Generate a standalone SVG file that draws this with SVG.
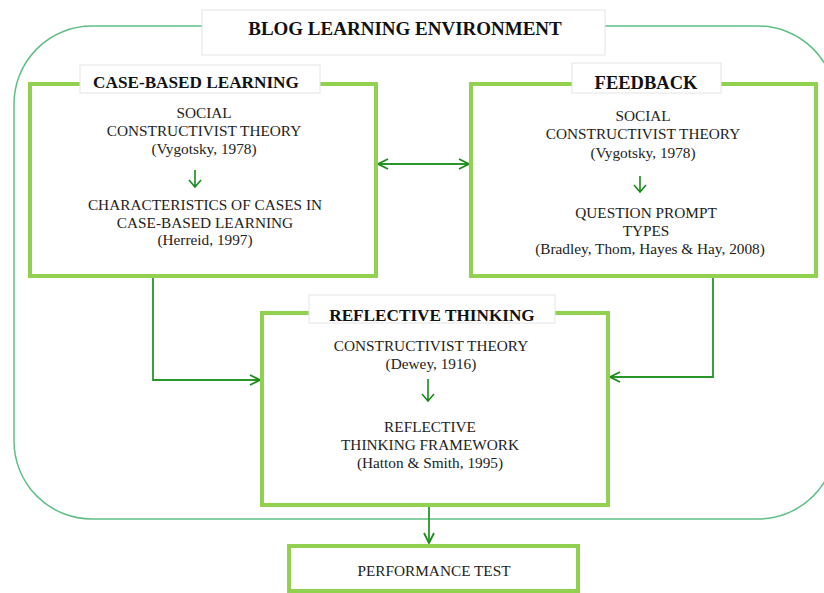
<svg xmlns="http://www.w3.org/2000/svg" width="824" height="593" viewBox="0 0 824 593">
<style>
.box{fill:#fff;stroke:#92d050;stroke-width:4}
.tab{fill:#fff;stroke:#e4e4e4;stroke-width:1}
.hd{font-family:"Liberation Serif","Times New Roman",serif;font-weight:bold;fill:#111;text-anchor:middle}
.tx{font-family:"Liberation Serif","Times New Roman",serif;font-size:15.3px;fill:#222;text-anchor:middle}
.con{fill:none;stroke:#2a962a;stroke-width:1.8}
.sm{fill:none;stroke:#1a8a1a;stroke-width:1.6}
</style>
<defs>
<marker id="ah" viewBox="0 0 12 12" refX="11" refY="6" markerWidth="12" markerHeight="12" markerUnits="userSpaceOnUse" orient="auto-start-reverse">
<path d="M1,1 L11,6 L1,11" fill="none" stroke="#1a8a1a" stroke-width="1.8"/>
</marker>
</defs>
<rect width="824" height="593" fill="#fff"/>
<rect id="env" x="14" y="26" width="822" height="493" rx="78" ry="78" fill="none" stroke="#5fbf85" stroke-width="1.5"/>
<g id="title">
<rect class="tab" x="202" y="10" width="403" height="45"/>
<text class="hd" x="405" y="35" font-size="19">BLOG LEARNING ENVIRONMENT</text>
</g>
<g id="connectors">
<path class="con" d="M378,164 H469" marker-start="url(#ah)" marker-end="url(#ah)"/>
<path class="con" d="M153,278 V380 H260" marker-end="url(#ah)"/>
<path class="con" d="M713,278 V377 H610" marker-end="url(#ah)"/>
<path class="con" d="M429,507 V543" marker-end="url(#ah)"/>
</g>
<g id="case-based">
<rect class="box" x="30" y="84" width="346" height="192"/>
<rect class="tab" x="80" y="65" width="240" height="28"/>
<text class="hd" x="196" y="88" font-size="17.2">CASE-BASED LEARNING</text>
<text class="tx" x="204" y="118">SOCIAL</text>
<text class="tx" x="204" y="136">CONSTRUCTIVIST THEORY</text>
<text class="tx" x="204" y="154">(Vygotsky, 1978)</text>
<path class="sm" d="M195,170 V187 M189,180 L195,187 L201,180"/>
<text class="tx" x="205" y="210">CHARACTERISTICS OF CASES IN</text>
<text class="tx" x="205" y="228">CASE-BASED LEARNING</text>
<text class="tx" x="205" y="245">(Herreid, 1997)</text>
</g>
<g id="feedback">
<rect class="box" x="471" y="84" width="345" height="192"/>
<rect class="tab" x="572" y="63" width="149" height="30"/>
<text class="hd" x="646" y="89" font-size="18.5">FEEDBACK</text>
<text class="tx" x="643" y="121">SOCIAL</text>
<text class="tx" x="643" y="139">CONSTRUCTIVIST THEORY</text>
<text class="tx" x="643" y="158">(Vygotsky, 1978)</text>
<path class="sm" d="M640,176 V192 M634,185 L640,192 L646,185"/>
<text class="tx" x="646" y="218">QUESTION PROMPT</text>
<text class="tx" x="646" y="236">TYPES</text>
<text class="tx" x="650" y="254">(Bradley, Thom, Hayes &amp; Hay, 2008)</text>
</g>
<g id="reflective">
<rect class="box" x="262" y="313" width="346" height="192"/>
<rect class="tab" x="309" y="295" width="246" height="28"/>
<text class="hd" x="432" y="321" font-size="17.2">REFLECTIVE THINKING</text>
<text class="tx" x="431" y="351">CONSTRUCTIVIST THEORY</text>
<text class="tx" x="431" y="369">(Dewey, 1916)</text>
<path class="sm" d="M428,379 V401 M422,394 L428,401 L434,394"/>
<text class="tx" x="430" y="432">REFLECTIVE</text>
<text class="tx" x="430" y="450">THINKING FRAMEWORK</text>
<text class="tx" x="430" y="468">(Hatton &amp; Smith, 1995)</text>
</g>
<g id="performance">
<rect class="box" x="289" y="546" width="289" height="45"/>
<text class="tx" x="434" y="576">PERFORMANCE TEST</text>
</g>
</svg>
